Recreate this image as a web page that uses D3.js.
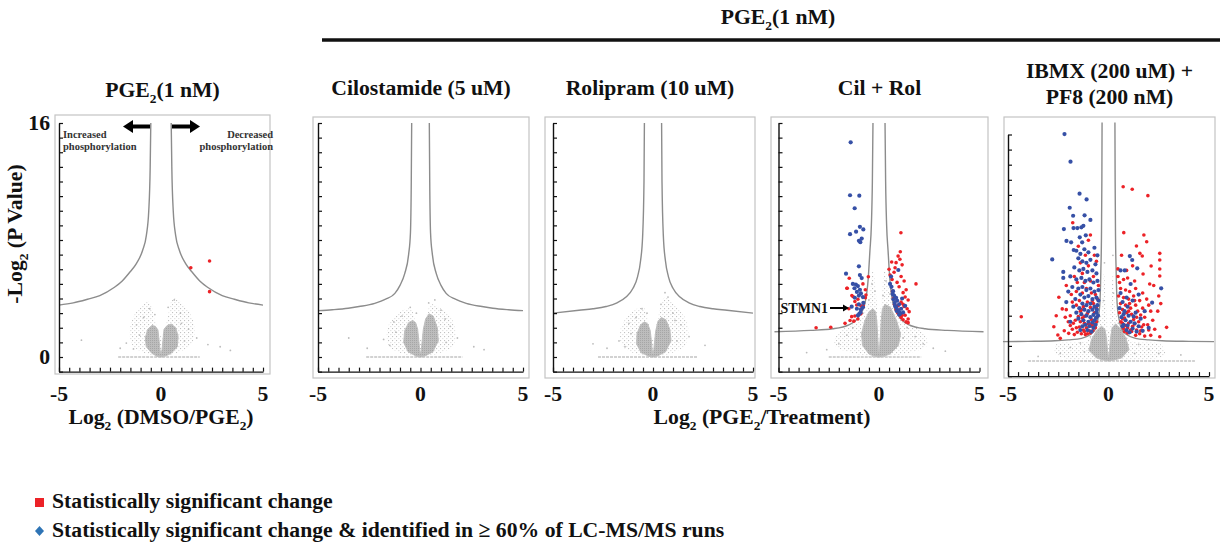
<!DOCTYPE html>
<html>
<head>
<meta charset="utf-8">
<script src="https://cdn.jsdelivr.net/npm/d3@7"></script>
<style>
    body { margin: 0; background: #fff; }
    svg text { font-family: "Times New Roman", "Liberation Serif", serif; font-weight: bold; fill: #111; }
</style>
</head>
<body>
<div id="chart"></div>
<script>

// ---------- text ----------
const topTitle = ["PGE", "_2", "(1 nM)"];
const panelTitles = [
    [["PGE", "_2", "(1 nM)"]],
    [["Cilostamide (5 uM)"]],
    [["Rolipram (10 uM)"]],
    [["Cil + Rol"]],
    [["IBMX (200 uM) +"], ["PF8 (200 nM)"]]
];
const yTitle = ["-Log", "_2", " (P Value)"];
const xTitleLeft = ["Log", "_2", " (DMSO/PGE", "_2", ")"];
const xTitleRight = ["Log", "_2", " (PGE", "_2", "/Treatment)"];
const xTickLabels = ["-5", "0", "5"];
const yTickLabels = ["0", "16"];
const legendLabels = [
    "Statistically significant change",
    "Statistically significant change & identified in \u2265 60% of LC-MS/MS runs"
];

// ---------- significance curves (right branch, mirrored for left) ----------
const curveP1 = [[0.5,16],[0.53,13],[0.6,10],[0.72,8.3],[0.9,7.3],[1.2,6.4],[1.5,5.85],[1.9,5.2],[2.3,4.75],[3.0,4.2],[3.6,3.95],[4.3,3.7],[5.0,3.55]];
const curveP2 = [[0.43,16],[0.45,12],[0.49,8.5],[0.58,7.0],[0.77,5.7],[1.0,4.9],[1.25,4.35],[1.7,3.95],[2.23,3.67],[3.0,3.45],[3.53,3.33],[4.3,3.23],[5.0,3.17]];
const curveP3 = [[0.43,16],[0.45,12],[0.52,8.2],[0.62,6.6],[0.77,5.5],[1.0,4.7],[1.35,4.1],[1.8,3.7],[2.35,3.45],[3.0,3.3],[3.7,3.2],[5.0,3.0]];
const curveP4 = [[0.3,16],[0.33,12],[0.38,9],[0.45,7.3],[0.54,5.3],[0.7,3.67],[1.0,2.76],[1.5,2.2],[2.3,1.93],[3.4,1.82],[5.2,1.73]];
const curveP5 = [[0.32,15.8],[0.33,12],[0.35,8.2],[0.38,6],[0.43,3.8],[0.52,2.8],[0.68,2.05],[0.9,1.75],[1.34,1.5],[2.0,1.4],[2.67,1.34],[4,1.3],[5.25,1.28]];

// ---------- grey (non-significant) clouds: dense V outline + sparse halo ----------
const denseP1 = [[-0.45,2.15],[-0.65,1.9],[-0.77,1.3],[-0.72,0.7],[-0.45,0.25],[-0.15,0.02],[0,0],[0.15,0.02],[0.5,0.25],[0.8,0.7],[0.84,1.4],[0.72,2.0],[0.5,2.25],[0.3,2.15],[0.15,1.9],[0.1,1.2],[0.05,0.5],[0,0.2],[-0.05,0.5],[-0.1,1.2],[-0.15,1.85],[-0.28,2.1]];
const denseP2 = [[-0.38,2.5],[-0.58,2.35],[-0.77,1.8],[-0.82,1.0],[-0.6,0.35],[-0.15,0.02],[0,0],[0.15,0.02],[0.6,0.35],[0.87,1.1],[0.82,2.0],[0.62,2.8],[0.42,2.95],[0.25,2.6],[0.14,1.9],[0.09,1.2],[0.04,0.5],[0,0.2],[-0.04,0.5],[-0.09,1.2],[-0.14,1.9],[-0.24,2.35]];
const denseP3 = [[-0.42,2.4],[-0.62,2.2],[-0.8,1.6],[-0.82,0.9],[-0.6,0.3],[-0.15,0.02],[0,0],[0.15,0.02],[0.62,0.35],[0.9,1.1],[0.84,1.9],[0.64,2.55],[0.42,2.7],[0.25,2.45],[0.14,1.8],[0.09,1.2],[0.04,0.5],[0,0.2],[-0.04,0.5],[-0.09,1.2],[-0.14,1.8],[-0.26,2.25]];
const denseP4 = [[-0.3,3.3],[-0.5,3.1],[-0.7,2.5],[-0.87,1.6],[-0.82,0.8],[-0.5,0.2],[-0.15,0.02],[0,0],[0.15,0.02],[0.55,0.2],[0.97,0.8],[1.07,1.6],[0.87,2.5],[0.57,3.4],[0.3,3.6],[0.17,3.3],[0.11,2.5],[0.07,1.5],[0.03,0.6],[0,0.3],[-0.03,0.6],[-0.07,1.5],[-0.11,2.5],[-0.17,3.1]];
const denseP5 = [[-0.35,2.3],[-0.6,2.0],[-0.85,1.4],[-0.97,0.7],[-0.6,0.2],[-0.15,0.02],[0,0],[0.15,0.02],[0.65,0.2],[1.02,0.75],[0.87,1.5],[0.62,2.1],[0.35,2.45],[0.18,2.2],[0.1,1.5],[0.05,0.7],[0,0.25],[-0.05,0.7],[-0.1,1.5],[-0.18,2.1]];

const haloP1 = [[-0.2,0],[-1.4,0.8],[-1.5,2.2],[-1.1,3.3],[-0.6,3.8],[-0.3,2.5],[0,1.4],[0.3,2.5],[0.6,4.0],[1.1,3.6],[1.6,2.4],[1.5,0.9],[0.2,0]];
const haloP2 = [[-0.2,0],[-1.5,0.7],[-1.6,2.0],[-1.1,3.0],[-0.5,3.3],[-0.25,2.5],[0,1.3],[0.25,2.6],[0.55,3.6],[1.0,3.3],[1.6,2.4],[1.6,0.8],[0.2,0]];
const haloP3 = [[-0.2,0],[-1.5,0.7],[-1.6,2.0],[-1.1,3.0],[-0.5,3.4],[-0.25,2.5],[0,1.3],[0.25,2.7],[0.6,4.1],[1.1,3.5],[1.7,2.4],[1.6,0.8],[0.2,0]];
const haloP4 = [[-0.3,0],[-2.2,0.8],[-2.0,1.7],[-0.9,2.6],[-0.5,4.0],[-0.3,6.0],[-0.1,3.5],[0,2.0],[0.1,3.5],[0.3,6.0],[0.55,4.2],[1.1,2.6],[2.2,1.7],[2.4,0.8],[0.3,0]];
const haloP5 = [[-0.3,0],[-2.6,0.4],[-2.6,1.1],[-1.0,1.4],[-0.4,3.0],[-0.25,6.0],[-0.08,3.0],[0,2.0],[0.08,3.0],[0.25,6.0],[0.4,3.0],[1.0,1.4],[2.6,1.1],[2.8,0.4],[0.3,0]];
// row of unchanged peptides at -log2 p = 0
const baseRows = [[-2.1, 1.9], [-2.65, 2.05], [-2.75, 2.2], [-2.5, 2.1], [-4.0, 4.3]];

const greyP1 = [[-1.35,0.55],[-1.05,1.5],[-0.85,2.7],[-0.55,3.3],[1.15,1.1],[1.35,1.9],[0.95,3.0],[0.65,3.9],[-3.9,1.15],[2.9,0.7],[3.4,0.45],[-2.0,0.6],[1.75,1.3],[-1.7,0.95],[2.3,0.85],[-0.3,2.9],[0.35,3.4],[1.0,2.3],[-1.2,2.2]];
const greyP2 = [[-1.5,0.8],[-1.2,1.7],[-0.9,2.8],[-0.5,3.4],[1.25,1.0],[1.45,2.1],[1.0,3.2],[0.7,3.9],[-3.5,1.3],[-2.6,0.6],[2.6,0.7],[3.1,0.5],[1.8,1.3],[-1.8,1.2],[0.4,3.7],[-0.2,3.0],[1.2,2.6],[-1.3,2.4]];
const greyP3 = [[-1.4,0.7],[-1.1,1.6],[-0.85,2.7],[-0.55,3.3],[1.2,1.1],[1.4,2.2],[1.0,3.0],[0.75,4.1],[-3.0,0.9],[-2.3,0.6],[2.6,0.8],[1.8,1.4],[-1.7,1.1],[0.4,3.6],[-0.3,3.0],[1.1,2.5],[-1.2,2.3],[0.6,4.4]];
const greyP4 = [[-2.0,0.9],[-1.6,1.5],[-1.3,2.0],[-0.8,3.0],[-0.5,3.9],[-0.35,5.0],[0.35,5.2],[0.55,4.3],[0.9,3.0],[1.4,2.0],[1.8,1.4],[2.2,0.9],[-2.6,0.5],[2.7,0.6],[-0.2,4.5],[0.2,4.2],[-1.1,1.2],[1.2,1.3],[-3.6,0.3],[3.3,0.4]];
const greyP5 = [[-2.4,0.5],[-1.9,0.9],[-1.4,1.2],[-0.9,1.6],[-0.5,2.6],[0.5,2.5],[0.9,1.5],[1.5,1.1],[2.0,0.8],[2.5,0.5],[-0.25,4.0],[0.25,4.5],[-0.2,6.5],[0.22,7.0],[-3.5,0.3],[3.6,0.4],[-1.2,0.6],[1.3,0.5],[-0.6,1.9],[0.7,1.8]];

// ---------- significant sites ----------
const redP1 = [[1.46,6.1],[2.38,6.56],[2.38,4.47]];

const redP4 = [
    [-3.13,2.0],[-2.4,2.03],[-1.69,2.3],[-1.48,5.38],[-1.58,4.7],[-1.28,4.12],[-1.2,3.8],[-1.11,3.56],[-1.36,2.76],[-1.44,2.5],
    [-0.9,2.95],[-0.78,3.5],[-0.68,4.05],[-0.68,4.6],[-0.53,5.49],[-0.65,4.24],[-1.05,2.6],[-1.25,2.45],[-1.2,2.8],[-1.5,3.3],
    [-1.35,4.2],[-0.8,5.0],[-0.9,3.5],[-1.05,3.95],[-1.6,4.7],
    [1.09,8.5],[1.06,7.2],[0.63,6.5],[0.85,6.45],[1.04,6.68],[1.84,5.0],[0.5,6.0],[0.55,5.6],[0.75,5.8],[1.1,5.5],
    [1.25,5.2],[0.9,5.1],[1.0,4.8],[1.35,4.6],[1.2,4.4],[0.68,4.5],[0.72,4.0],[0.78,3.6],[1.3,4.1],[1.45,3.9],
    [1.1,3.75],[0.95,3.5],[1.25,3.45],[0.85,3.25],[1.4,3.3],[0.95,3.0],[1.1,2.7],[1.2,2.55],[1.15,2.85],[1.3,2.85],
    [1.45,2.6],[1.05,2.85],[1.35,2.4],[0.98,3.1],[1.45,2.35],[1.5,3.1],[0.8,6.1],[0.95,6.9],[1.15,6.3],[0.65,5.3],[1.2,3.6]
];
const blueP4 = [
    [-1.41,14.68],[-1.44,11.06],[-0.98,11.03],[-1.21,10.17],[-1.44,8.4],[-1.14,8.57],[-0.95,8.9],[-0.78,8.72],[-0.86,8.1],[-1.0,7.95],
    [-0.93,7.85],[-1.0,6.2],[-1.64,5.7],[-0.95,5.6],[-0.86,5.4],[-1.3,5.0],[-1.15,4.95],[-1.05,4.85],[-1.22,4.7],[-0.95,4.6],
    [-1.1,4.45],[-0.9,4.35],[-1.0,4.2],[-0.8,4.1],[-1.2,4.05],[-1.36,3.44],[-1.1,3.3],[-0.9,3.25],[-0.92,3.05],[-0.98,2.95],
    [-1.05,2.85],[-0.8,3.4],[-0.78,3.7],[-1.0,3.6],
    [0.55,5.0],[0.96,5.95],[0.6,5.5],[0.62,4.8],[0.7,4.5],[0.68,4.3],[0.75,4.2],[0.85,4.05],[0.72,3.95],[0.9,3.85],
    [0.78,3.7],[1.0,3.6],[0.8,3.5],[0.85,3.4],[1.1,3.3],[0.95,3.2],[0.88,3.15],[1.2,3.05],[1.05,2.95],[1.0,2.9],
    [1.3,3.5],[1.15,4.0],[1.02,3.05]
];

const redP5 = [
    [-4.34,2.93],[-2.72,2.27],[-2.47,4.22],[-2.3,3.45],[-2.52,1.72],[-1.98,1.83],[-1.78,9.16],[-0.9,8.34],[-1.5,7.6],[-1.0,8.0],
    [-2.1,5.0],[-1.85,4.4],[-1.7,5.6],[-1.55,5.2],[-1.3,5.8],[-1.0,6.3],[-0.75,5.6],[-0.6,6.6],[-0.5,5.0],[-1.9,3.0],
    [-1.75,2.5],[-1.6,2.2],[-1.6,3.7],[-1.45,4.0],[-1.4,3.3],[-1.4,2.6],[-1.25,3.6],[-1.2,2.95],[-1.2,2.5],[-1.05,3.9],
    [-1.05,3.15],[-1.0,2.45],[-0.95,2.0],[-0.9,3.55],[-0.85,2.75],[-0.8,2.3],[-0.75,3.8],[-0.7,3.2],[-0.7,2.45],[-0.65,4.4],
    [-0.6,3.5],[-0.6,2.9],[-0.55,4.1],[-1.15,1.75],[-1.35,1.8],[-1.55,1.9],[-1.8,2.1],[-2.0,2.6],[-2.2,2.0],[-2.1,3.4],
    [-1.3,4.5],[-1.1,4.8],[-0.85,4.5],[-0.9,5.3],[-1.2,5.2],[-1.8,3.9],[-1.5,2.95],[-1.1,2.2],[-0.9,1.85],[-1.25,2.05],
    [-1.7,1.75],[-2.4,1.5],[-0.78,2.0],[-0.6,2.6],[-0.8,4.0],[-1.4,6.5],[-1.15,7.0],[-0.7,7.0],[-1.6,4.6],[-2.6,3.0],
    [-1.65,2.7],[-1.45,2.25],[-1.3,2.85],[-1.05,1.8],[-0.85,2.45],[-0.65,2.2],[-1.35,3.4],[-1.9,2.35],[-2.15,2.9],[-1.2,1.95],
    [0.73,11.54],[1.18,11.37],[1.96,10.95],[0.76,8.5],[1.76,8.34],[1.39,7.62],[1.56,7.13],[1.68,6.95],[2.55,7.13],[2.55,6.69],
    [2.55,6.09],[2.55,5.63],[0.47,6.1],[0.47,5.6],[2.12,6.29],[1.72,5.76],[2.05,5.1],[2.25,5.0],[2.5,4.3],[2.6,3.8],
    [2.45,3.3],[2.89,2.23],[2.55,1.61],[0.55,5.2],[0.75,5.4],[0.95,5.5],[1.3,5.3],[0.6,4.8],[0.85,4.7],[1.05,4.6],
    [1.35,4.8],[1.7,4.5],[0.5,4.3],[0.75,4.2],[1.0,4.1],[1.25,4.3],[1.55,4.0],[1.9,4.1],[0.6,3.8],[0.85,3.7],
    [1.1,3.5],[1.35,3.7],[1.7,3.5],[2.1,3.3],[0.55,3.2],[0.7,3.4],[0.9,3.2],[1.15,3.1],[1.45,3.3],[1.8,2.9],
    [2.2,2.7],[0.62,2.6],[0.8,2.85],[1.0,2.5],[1.25,2.75],[1.5,2.6],[1.95,2.4],[0.75,2.15],[0.95,2.2],[1.2,2.3],
    [1.4,2.05],[1.65,2.25],[2.3,2.1],[0.95,1.85],[1.15,1.95],[1.35,1.7],[1.55,1.8],[1.8,1.65],[2.1,1.7],[0.7,2.5],
    [1.05,3.8],[1.6,3.05],[2.0,3.7],[1.3,4.0],[0.9,6.0],[1.2,6.3],[1.9,7.9],[0.65,7.0],
    [0.85,2.35],[1.1,2.05],[1.3,2.45],[1.6,2.0],[0.7,2.8],[1.4,2.9],[1.0,3.3],[1.75,2.4],[2.0,2.05],[0.8,1.95]
];
const blueP5 = [
    [-2.19,15.03],[-1.89,13.2],[-1.44,11.08],[-1.09,10.7],[-1.93,10.15],[-1.76,9.62],[-1.19,9.65],[-0.9,9.34],[-2.22,8.74],[-1.74,8.8],
    [-1.55,8.8],[-1.35,8.85],[-1.25,8.95],[-1.13,8.32],[-1.43,8.19],[-1.31,7.86],[-2.09,7.95],[-1.86,7.86],[-1.73,7.35],[-2.8,6.73],
    [-2.25,5.9],[-2.25,5.5],[-1.6,7.3],[-1.4,7.1],[-1.2,7.4],[-1.0,7.2],[-0.7,7.5],[-0.55,7.0],[-1.5,6.8],[-1.3,6.6],
    [-1.1,6.5],[-0.9,6.7],[-0.65,6.4],[-1.7,6.2],[-1.45,6.0],[-1.25,6.1],[-1.05,5.9],[-0.8,6.0],[-0.6,5.8],[-1.9,5.6],
    [-1.6,5.4],[-1.35,5.5],[-1.15,5.3],[-0.95,5.4],[-0.75,5.2],[-0.55,5.3],[-1.8,4.9],[-1.5,4.8],[-1.3,4.9],[-1.1,4.7],
    [-0.9,4.8],[-0.7,4.6],[-0.5,4.7],[-1.4,4.4],[-1.2,4.2],[-1.0,4.3],[-0.8,4.1],[-0.6,4.2],[-1.65,4.1],[-1.3,3.8],
    [-1.1,3.7],[-0.9,3.8],[-0.7,3.6],[-0.55,3.7],[-1.45,3.5],[-1.2,3.4],[-1.0,3.3],[-0.8,3.4],[-0.6,3.2],[-1.35,3.1],
    [-1.1,3.0],[-0.9,2.9],[-0.75,3.05],[-0.62,2.85],[-1.5,2.8],[-1.25,2.7],[-1.0,2.6],[-0.8,2.55],[-0.65,2.4],[-1.15,2.4],
    [-0.95,2.3],[-0.75,2.2],[-1.3,2.3],[-1.05,2.05],[-0.85,1.95],[-1.4,2.05],[-0.7,2.7],[-0.58,3.4],[-0.5,4.0],[-0.52,3.0],
    [-1.6,3.2],[-1.75,3.6],[-1.9,2.6],[-2.1,3.9],[-2.0,4.6],
    [0.6,6.0],[0.81,6.0],[1.06,6.95],[1.18,6.69],[1.43,6.14],[2.62,4.81],[2.17,3.86],[0.9,4.2],[0.7,3.9],[1.2,4.0],
    [0.55,3.5],[0.8,3.3],[1.0,3.0],[0.65,2.9],[0.85,2.7],[1.1,2.6],[0.75,2.4],[0.95,2.35],[1.3,2.5],[1.5,2.3],
    [1.2,2.15],[0.9,2.05],[1.05,1.9],[1.4,1.95],[1.7,2.0],[0.7,2.3],[1.6,2.8],[1.35,3.2],[1.8,3.3],[2.0,2.2],
    [0.6,4.5],[1.1,5.1],[1.5,4.4],[0.95,3.6],[1.25,2.95],[0.75,3.1]
];

// ---------- page layout ----------
const W = 1225, H = 542;
const FONT = 21.7;
const RED = "#ec2227", BLUE = "#3650a6";

const layout = [
    {left: 55,   right: 270,  top: 115, bottom: 374, x0: 59,    x1: 263,   yZero: 357, yTop: 123,   yMax: 16},
    {left: 313,  right: 529,  top: 117, bottom: 378, x0: 318,   x1: 523,   yZero: 357, yTop: 123,   yMax: 16},
    {left: 545,  right: 755,  top: 117, bottom: 378, x0: 553,   x1: 753,   yZero: 357, yTop: 123,   yMax: 16},
    {left: 771,  right: 988,  top: 117, bottom: 378, x0: 778.5, x1: 979.5, yZero: 357, yTop: 123,   yMax: 16},
    {left: 1004, right: 1215, top: 117, bottom: 378, x0: 1008,  x1: 1209,  yZero: 361, yTop: 134.5, yMax: 15}
];

const curves = [curveP1, curveP2, curveP3, curveP4, curveP5];
const denses = [denseP1, denseP2, denseP3, denseP4, denseP5];
const halos = [haloP1, haloP2, haloP3, haloP4, haloP5];
const greys = [greyP1, greyP2, greyP3, greyP4, greyP5];
const reds = [redP1, [], [], redP4, redP5];
const blues = [[], [], [], blueP4, blueP5];

const svg = d3.select("#chart").append("svg")
    .attr("width", W)
    .attr("height", H);

// speckle textures for the grey clouds
let defs = svg.append("defs");
let speck = defs.append("pattern")
    .attr("id", "speck")
    .attr("width", 4)
    .attr("height", 4)
    .attr("patternUnits", "userSpaceOnUse");
speck.append("rect").attr("x", 0).attr("y", 0).attr("width", 1.1).attr("height", 1.1).attr("fill", "#c2c2c2");
speck.append("rect").attr("x", 2.3).attr("y", 2.1).attr("width", 1).attr("height", 1).attr("fill", "#d4d4d4");

let dense = defs.append("pattern")
    .attr("id", "dense")
    .attr("width", 2)
    .attr("height", 2)
    .attr("patternUnits", "userSpaceOnUse");
dense.append("rect").attr("width", 2).attr("height", 2).attr("fill", "#bdbdbd");
dense.append("rect").attr("width", 1).attr("height", 1).attr("fill", "#a6a6a6");

// text with subscripts: parts starting with "_" are subscripts
function richText(sel, parts, size) {
    let shift = 0;
    parts.forEach(p => {
        let sub = p.startsWith("_");
        let t = sub ? p.slice(1) : p;
        let s = sub ? size * 0.28 : 0;
        sel.append("tspan")
            .attr("dy", s - shift)
            .attr("font-size", sub ? size * 0.62 : size)
            .text(t);
        shift = s;
    });
    return sel;
}

layout.forEach((L, i) => drawPanel(L, i));

function drawPanel(L, i) {
    let g = svg.append("g").attr("class", "panel");

    let x = d3.scaleLinear().domain([-5, 5]).range([L.x0, L.x1]);
    let unit = (L.yZero - L.yTop) / L.yMax;
    let y = d3.scaleLinear().domain([-1, L.yMax]).range([L.yZero + unit, L.yTop]);

    g.append("rect")
        .attr("x", L.left)
        .attr("y", L.top)
        .attr("width", L.right - L.left)
        .attr("height", L.bottom - L.top)
        .attr("fill", "white")
        .attr("stroke", "#c4c4c4")
        .attr("stroke-width", 1.2);

    // grey cloud
    let halo = d3.line()
        .x(d => x(d[0]))
        .y(d => y(d[1]))
        .curve(d3.curveCatmullRomClosed.alpha(0.5));
    let vshape = d3.line()
        .x(d => x(d[0]))
        .y(d => y(d[1]))
        .curve(d3.curveLinearClosed);

    g.append("path")
        .attr("d", halo(halos[i]))
        .attr("fill", "url(#speck)");

    g.append("line")
        .attr("x1", x(baseRows[i][0]))
        .attr("x2", x(baseRows[i][1]))
        .attr("y1", y(0))
        .attr("y2", y(0))
        .attr("stroke", "#c4c4c4")
        .attr("stroke-width", 1.6)
        .attr("stroke-dasharray", "3,1");

    g.append("path")
        .attr("d", vshape(denses[i]))
        .attr("fill", "url(#dense)")
        .attr("stroke", "#c0c0c0")
        .attr("stroke-width", 1)
        .attr("stroke-linejoin", "round");

    g.selectAll(".grey")
        .data(greys[i])
        .enter()
        .append("circle")
        .attr("class", "grey")
        .attr("cx", d => x(d[0]))
        .attr("cy", d => y(d[1]))
        .attr("r", 0.9)
        .attr("fill", "#bcbcbc");

    // significance threshold curve
    let line = d3.line()
        .x(d => x(d[0]))
        .y(d => y(d[1]))
        .curve(d3.curveMonotoneX);
    let rightBranch = curves[i];
    let leftBranch = rightBranch.map(d => [-d[0], d[1]]).reverse();
    [leftBranch, rightBranch].forEach(b => {
        g.append("path")
            .attr("d", line(b))
            .attr("fill", "none")
            .attr("stroke", "#8c8c8c")
            .attr("stroke-width", 1.4);
    });

    // significant sites
    g.selectAll(".red")
        .data(reds[i])
        .enter()
        .append("circle")
        .attr("class", "red")
        .attr("cx", d => x(d[0]))
        .attr("cy", d => y(d[1]))
        .attr("r", 1.8)
        .attr("fill", RED);

    g.selectAll(".blue")
        .data(blues[i])
        .enter()
        .append("circle")
        .attr("class", "blue")
        .attr("cx", d => x(d[0]))
        .attr("cy", d => y(d[1]))
        .attr("r", 2.1)
        .attr("fill", BLUE);

    // axes (ticks point inward)
    let yAxis = d3.axisRight(y)
        .tickValues(d3.range(-1, L.yMax + 1))
        .tickSize(4)
        .tickSizeOuter(0)
        .tickFormat("");
    let xAxis = d3.axisTop(x)
        .tickValues(d3.range(-5, 5.01, 0.5))
        .tickSize(4)
        .tickSizeOuter(0)
        .tickFormat("");

    let ya = g.append("g").attr("transform", `translate(${x(-5)},0)`).call(yAxis);
    let xa = g.append("g").attr("transform", `translate(0,${y(-1)})`).call(xAxis);
    [ya, xa].forEach(a => {
        a.select(".domain").attr("stroke", "#111").attr("stroke-width", 1.4);
        a.selectAll(".tick line").attr("stroke", "#111").attr("stroke-width", 1.2);
    });

    g.selectAll(".xlab")
        .data(xTickLabels)
        .enter()
        .append("text")
        .attr("class", "xlab")
        .attr("x", d => x(+d))
        .attr("y", 401)
        .attr("text-anchor", "middle")
        .attr("font-size", FONT)
        .text(d => d);

    if (i === 0) {
        g.selectAll(".ylab")
            .data(yTickLabels)
            .enter()
            .append("text")
            .attr("class", "ylab")
            .attr("x", 50)
            .attr("y", d => y(+d) + 7)
            .attr("text-anchor", "end")
            .attr("font-size", FONT)
            .text(d => d);
    }

    // panel title
    let lines = panelTitles[i];
    let cx = (L.left + L.right) / 2;
    lines.forEach((ln, k) => {
        let base = lines.length === 1 ? (i === 0 ? 97 : 95) : 78 + k * 26;
        richText(g.append("text")
            .attr("x", cx)
            .attr("y", base)
            .attr("text-anchor", "middle"), ln, FONT);
    });
}

// ---------- annotations ----------
// header over the treatment panels
richText(svg.append("text").attr("x", 778).attr("y", 24).attr("text-anchor", "middle"), topTitle, FONT);
svg.append("line")
    .attr("x1", 322).attr("x2", 1220)
    .attr("y1", 40).attr("y2", 40)
    .attr("stroke", "#111")
    .attr("stroke-width", 3.5);

// axis titles
richText(svg.append("text")
    .attr("transform", "translate(22,234) rotate(-90)")
    .attr("text-anchor", "middle"), yTitle, FONT);
richText(svg.append("text").attr("x", 161).attr("y", 424).attr("text-anchor", "middle"), xTitleLeft, FONT);
richText(svg.append("text").attr("x", 762).attr("y", 424).attr("text-anchor", "middle"), xTitleRight, FONT);

// direction arrows in the first panel
function arrow(tipX, tailX, yy, shaft, headLen, headHalf) {
    let dir = tipX < tailX ? 1 : -1;
    let baseX = tipX + dir * headLen;
    svg.append("line")
        .attr("x1", tailX).attr("x2", baseX)
        .attr("y1", yy).attr("y2", yy)
        .attr("stroke", "#000")
        .attr("stroke-width", shaft);
    svg.append("path")
        .attr("d", `M${tipX},${yy} L${baseX},${yy - headHalf} L${baseX},${yy + headHalf} Z`)
        .attr("fill", "#000");
}
arrow(123, 150, 126.5, 4, 10, 6.5);
arrow(200, 172, 126.5, 4, 10, 6.5);

[["Increased", 138], ["phosphorylation", 150]].forEach(d => {
    svg.append("text").attr("x", 63).attr("y", d[1])
        .attr("font-size", 10.5).style("fill", "#333").text(d[0]);
});
[["Decreased", 138], ["phosphorylation", 150]].forEach(d => {
    svg.append("text").attr("x", 273).attr("y", d[1]).attr("text-anchor", "end")
        .attr("font-size", 10.5).style("fill", "#333").text(d[0]);
});

// STMN1 label in Cil + Rol panel
svg.append("text").attr("x", 828).attr("y", 313).attr("text-anchor", "end")
    .attr("font-size", 14).text("STMN1");
arrow(849, 830, 308, 2, 6, 3.5);

// legend
svg.append("rect")
    .attr("x", 35).attr("y", 498)
    .attr("width", 9).attr("height", 9)
    .attr("fill", RED);
svg.append("path")
    .attr("d", "M39.5,526 L44,531 L39.5,536 L35,531 Z")
    .attr("fill", "#2e74b5");
legendLabels.forEach((t, k) => {
    svg.append("text")
        .attr("x", 52)
        .attr("y", 508 + k * 29)
        .attr("font-size", FONT)
        .text(t);
});

</script>
</body>
</html>
